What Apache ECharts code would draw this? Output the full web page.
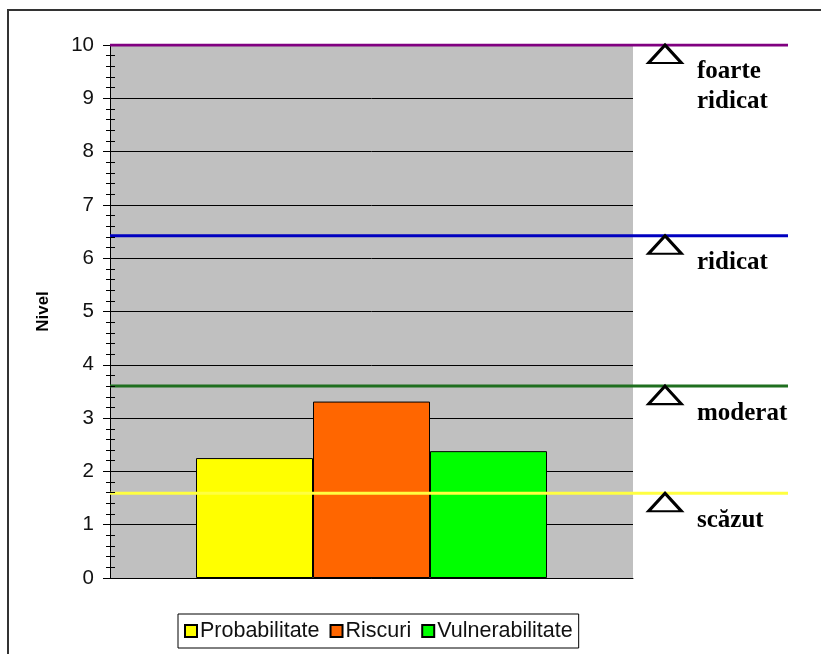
<!DOCTYPE html>
<html>
<head>
<meta charset="utf-8">
<script src="https://cdn.jsdelivr.net/npm/echarts@6/dist/echarts.min.js"></script>
<style>html,body{margin:0;padding:0;background:#fff}#c{width:821px;height:654px}</style>
</head>
<body>
<div id="c"></div>
<script>
// ---- data ----
const seriesNames = ['Probabilitate', 'Riscuri', 'Vulnerabilitate'];
const seriesValues = [2.25, 3.31, 2.38];
const levelValues = [10, 6.42, 3.6, 1.59];
const levelLabels = ['foarte\nridicat', 'ridicat', 'moderat', 'scăzut'];
const yTicks = [0, 1, 2, 3, 4, 5, 6, 7, 8, 9, 10];

// ---- styles ----
const barColors = ['#ffff00', '#ff6600', '#00ff00'];
const levelColors = ['#800080', '#0000c0', '#1f6f1f', '#ffff40'];
const markerX = 0.8186;

const chart = echarts.init(document.getElementById('c'), null, {renderer: 'canvas'});

const series = [];
seriesNames.forEach((n, i) => {
  series.push({
    name: n, type: 'bar', xAxisIndex: 0, yAxisIndex: 0,
    data: [seriesValues[i]],
    barWidth: 117, barGap: '0%',
    itemStyle: {color: barColors[i], borderColor: '#000', borderWidth: 1},
    z: 2
  });
});
levelValues.forEach((v, i) => {
  series.push({
    type: 'line', xAxisIndex: 1, yAxisIndex: 2,
    data: [[0, v], [1, v]],
    symbol: 'none', silent: true,
    lineStyle: {color: levelColors[i], width: 3},
    z: 5
  });
});
series.push({
  type: 'scatter', xAxisIndex: 1, yAxisIndex: 2, silent: true,
  data: levelValues.map(v => [markerX, v]),
  symbol: 'triangle', symbolSize: [33, 18], symbolOffset: [0, 9],
  itemStyle: {color: '#fff', borderColor: '#000', borderWidth: 2.8, opacity: 1},
  z: 6
});
series.push({
  type: 'scatter', xAxisIndex: 1, yAxisIndex: 2, silent: true,
  data: levelValues.map((v, i) => ({value: [markerX, v], name: levelLabels[i]})),
  symbolSize: 0,
  itemStyle: {opacity: 1},
  label: {
    show: true, formatter: p => p.name, position: [32, 12],
    align: 'left', verticalAlign: 'top',
    fontFamily: 'Liberation Serif', fontWeight: 'bold', fontSize: 25, lineHeight: 30, color: '#000', opacity: 1
  },
  z: 7
});

chart.setOption({
  animation: false,
  backgroundColor: '#fff',
  graphic: [{
    type: 'rect', shape: {x: 8, y: 10, width: 900, height: 700},
    style: {fill: 'none', stroke: '#333', lineWidth: 2}, silent: true, z: 100
  }],
  grid: [
    {left: 110, top: 45, right: 188, bottom: 76, show: true, backgroundColor: '#c0c0c0', borderWidth: 0},
    {left: 110, top: 45, right: 33, bottom: 76, show: false}
  ],
  legend: {
    data: seriesNames, left: 178, top: 614,
    orient: 'horizontal', borderColor: '#000', borderWidth: 1,
    padding: [6, 6], itemGap: 10, itemWidth: 12, itemHeight: 12,
    icon: 'rect',
    textStyle: {fontFamily: 'Liberation Sans', fontSize: 21.5, color: '#111', padding: [0, 0, 0, -2]}
  },
  xAxis: [
    {type: 'category', gridIndex: 0, data: [''],
     axisLine: {show: true, lineStyle: {color: '#000', width: 1}},
     axisTick: {show: false}, axisLabel: {show: false}, splitLine: {show: false}},
    {type: 'value', gridIndex: 1, min: 0, max: 1, show: false}
  ],
  yAxis: [
    {type: 'value', gridIndex: 0, min: 0, max: 10, interval: 1,
     name: 'Nivel', nameLocation: 'middle', nameGap: 58, nameRotate: 90,
     nameTextStyle: {fontFamily: 'Liberation Sans', fontWeight: 'bold', fontSize: 17, color: '#000'},
     axisLine: {show: true, lineStyle: {color: '#000', width: 1}},
     axisTick: {show: true, length: 7, lineStyle: {color: '#000'}},
     minorTick: {show: false},
     axisLabel: {margin: 16, fontFamily: 'Liberation Sans', fontSize: 20.5, color: '#111',
       formatter: v => yTicks.includes(v) ? String(v) : ''},
     splitLine: {show: true, lineStyle: {color: '#000', width: 1}}},
    {type: 'value', gridIndex: 0, min: 0, max: 10, interval: 1, position: 'left', offset: -5,
     axisLine: {show: false},
     axisTick: {show: true, length: 9, lineStyle: {color: 'rgba(0,0,0,0)'}},
     minorTick: {show: true, splitNumber: 5, length: 9, lineStyle: {color: '#000'}},
     axisLabel: {show: false}, splitLine: {show: false}, z: 10},
    {type: 'value', gridIndex: 1, min: 0, max: 10, show: false}
  ],
  series: series
});
</script>
</body>
</html>
